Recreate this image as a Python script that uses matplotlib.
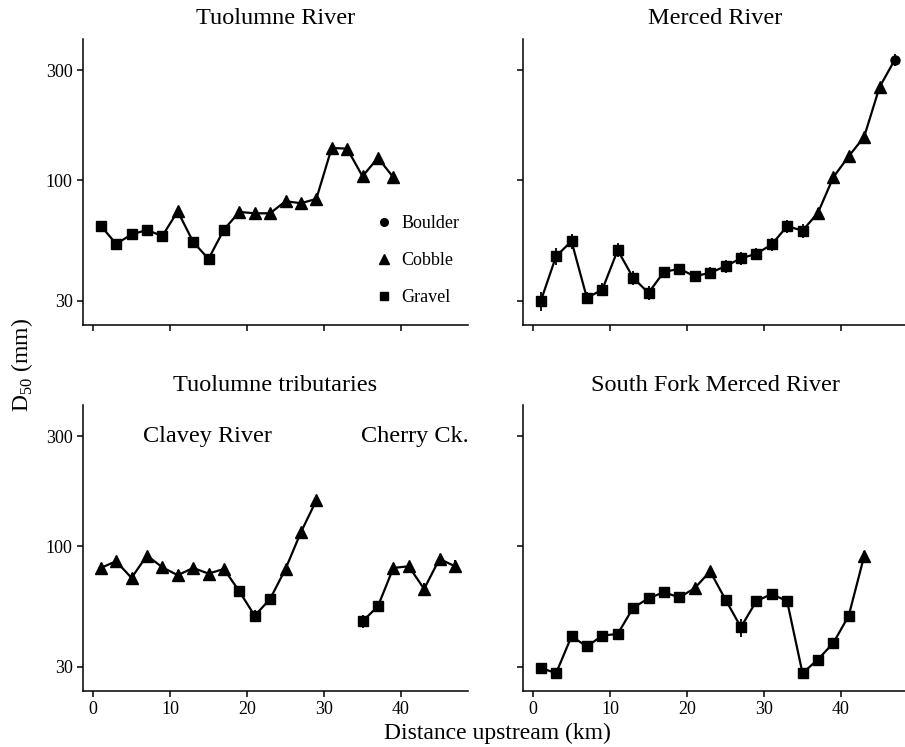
"""
Median grain size (D50) along the Tuolumne and Merced river systems
"""
import numpy as np
import matplotlib.pyplot as plt
from matplotlib.lines import Line2D

plt.rcParams['font.family'] = ['Liberation Serif', 'DejaVu Serif']
plt.rcParams['mathtext.fontset'] = 'custom'
plt.rcParams['mathtext.rm'] = 'Liberation Serif'

# distance upstream (km), D50 (mm), error half-width (mm), size class
tuol_km = [1, 3, 5, 7, 9, 11, 13, 15, 17, 19, 21, 23, 25, 27, 29, 31, 33, 35, 37, 39]
tuol_d50 = [63.6, 53.0, 58.2, 60.9, 57.3, 73.4, 54.1, 45.6, 61.1, 72.9,
            71.9, 71.9, 81.1, 79.5, 83.0, 138, 137, 104, 125, 103]
tuol_cls = ['G', 'G', 'G', 'G', 'G', 'C', 'G', 'G', 'G', 'C',
            'C', 'C', 'C', 'C', 'C', 'C', 'C', 'C', 'C', 'C']

merc_km = [1, 3, 5, 7, 9, 11, 13, 15, 17, 19, 21, 23, 25, 27, 29, 31, 33, 35, 37, 39, 41, 43, 45, 47]
merc_d50 = [29.9, 46.9, 54.4, 30.9, 33.6, 49.8, 37.8, 32.5, 40.1, 41.3, 38.4, 39.7,
            42.4, 45.9, 48.0, 52.7, 63.2, 60.5, 72.2, 103, 127, 154, 253, 333]
merc_err = [2.8, 4.0, 4.0, 1.8, 2.2, 3.5, 2.8, 2.2, 1.8, 1.8, 1.8, 2.4,
            2.6, 3.0, 3.0, 3.5, 4.2, 4.2, 3.5, 4.5, 5.5, 6.5, 12, 20]
merc_cls = ['G'] * 18 + ['C', 'C', 'C', 'C', 'C', 'B']

clav_km = [1, 3, 5, 7, 9, 11, 13, 15, 17, 19, 21, 23, 25, 27, 29]
clav_d50 = [80.5, 86.1, 72.9, 91.1, 81.1, 74.9, 80.5, 76.1, 79.7, 63.8, 50.0, 59.1, 79.7, 115, 158]
clav_err = [4, 3, 4, 3, 3, 4, 3, 3, 3, 3, 3, 3, 3, 4, 4]
clav_cls = ['C'] * 9 + ['G', 'G', 'G', 'C', 'C', 'C']

cher_km = [35, 37, 39, 41, 43, 45, 47]
cher_d50 = [47.3, 54.9, 80.5, 81.9, 65.3, 88.1, 81.9]
cher_err = [3, 3, 3, 3, 4, 4, 5]
cher_cls = ['G', 'G', 'C', 'C', 'C', 'C', 'C']

sfm_km = [1, 3, 5, 7, 9, 11, 13, 15, 17, 19, 21, 23, 25, 27, 29, 31, 33, 35, 37, 39, 41, 43]
sfm_d50 = [29.7, 28.2, 40.7, 36.8, 41.0, 41.7, 54.1, 59.5, 63.2, 60.0, 65.8, 77.9,
           58.7, 44.6, 57.8, 62.1, 57.8, 28.2, 32.3, 38.1, 50.0, 90.5]
sfm_err = [1.5, 1.0, 1.5, 1.5, 1.5, 1.0, 1.5, 1.5, 1.5, 1.5, 1.5, 2.0,
           2.0, 4.0, 2.0, 1.5, 1.5, 1.0, 1.0, 1.5, 2.0, 5.0]
sfm_cls = ['G'] * 10 + ['C', 'C'] + ['G'] * 9 + ['C']

markers = {'B': 'o', 'C': '^', 'G': 's'}
msizes = {'B': 6.5, 'C': 8, 'G': 6.5}

W, H = 905, 747
fig = plt.figure(figsize=(W / 100, H / 100), dpi=100)


def make_axes(left, top, width=385, height=286):
    ax = fig.add_axes([left / W, 1 - (top + height) / H, width / W, height / H])
    ax.set_yscale('log')
    ax.set_xlim(-1.3, 48.7)
    ax.set_ylim(23.6, 409)
    ax.set_yticks([30, 100, 300])
    ax.set_yticklabels(['30', '100', '300'])
    ax.yaxis.set_minor_locator(plt.NullLocator())
    ax.set_xticks([0, 10, 20, 30, 40])
    for s in ['top', 'right']:
        ax.spines[s].set_visible(False)
    for s in ['left', 'bottom']:
        ax.spines[s].set_linewidth(1.1)
    ax.tick_params(length=4.5, width=1.1, labelsize=13, colors='black', pad=3)
    return ax


def draw_series(ax, km, d50, cls, err=None):
    km = np.array(km)
    d50 = np.array(d50)
    if err is not None:
        ax.errorbar(km, d50, yerr=err, fmt='none', ecolor='black', elinewidth=1.3, capsize=0)
    ax.plot(km, d50, color='black', lw=1.6, zorder=2)
    cls = np.array(cls)
    for c, m in markers.items():
        sel = cls == c
        if sel.any():
            ax.plot(km[sel], d50[sel], ls='none', marker=m, ms=msizes[c],
                    color='black', zorder=3)


ax1 = make_axes(83, 39)
draw_series(ax1, tuol_km, tuol_d50, tuol_cls)
ax1.set_title('Tuolumne River', fontsize=17.5, pad=11)
ax1.set_xticklabels([])
handles = [Line2D([], [], ls='none', marker='o', ms=5.5, color='black'),
           Line2D([], [], ls='none', marker='^', ms=7, color='black'),
           Line2D([], [], ls='none', marker='s', ms=5.5, color='black')]
ax1.legend(handles, ['Boulder', 'Cobble', 'Gravel'], frameon=False, fontsize=13,
           loc='center left', bbox_to_anchor=(0.735, 0.225), labelspacing=1.12,
           handlelength=1.0, handletextpad=0.45, borderpad=0)

ax2 = make_axes(523, 39)
draw_series(ax2, merc_km, merc_d50, merc_cls, merc_err)
ax2.set_title('Merced River', fontsize=17.5, pad=11)
ax2.set_xticklabels([])
ax2.set_yticklabels([])

ax3 = make_axes(83, 405)
draw_series(ax3, clav_km, clav_d50, clav_cls, clav_err)
draw_series(ax3, cher_km, cher_d50, cher_cls, cher_err)
ax3.set_title('Tuolumne tributaries', fontsize=17.5, pad=10)
ax3.text(14.9, 300, 'Clavey River', fontsize=17.5, ha='center', va='center')
ax3.text(41.8, 300, 'Cherry Ck.', fontsize=17.5, ha='center', va='center')

ax4 = make_axes(523, 405)
draw_series(ax4, sfm_km, sfm_d50, sfm_cls, sfm_err)
ax4.set_title('South Fork Merced River', fontsize=17.5, pad=10)
ax4.set_yticklabels([])

fig.text(22 / W, 1 - 365 / H, r'D$_{\mathrm{50}}$ (mm)', fontsize=17,
         rotation=90, ha='center', va='center')
fig.text(497 / W, 1 - 733 / H, 'Distance upstream (km)', fontsize=17,
         ha='center', va='center')

plt.savefig('out.png', dpi=100)
